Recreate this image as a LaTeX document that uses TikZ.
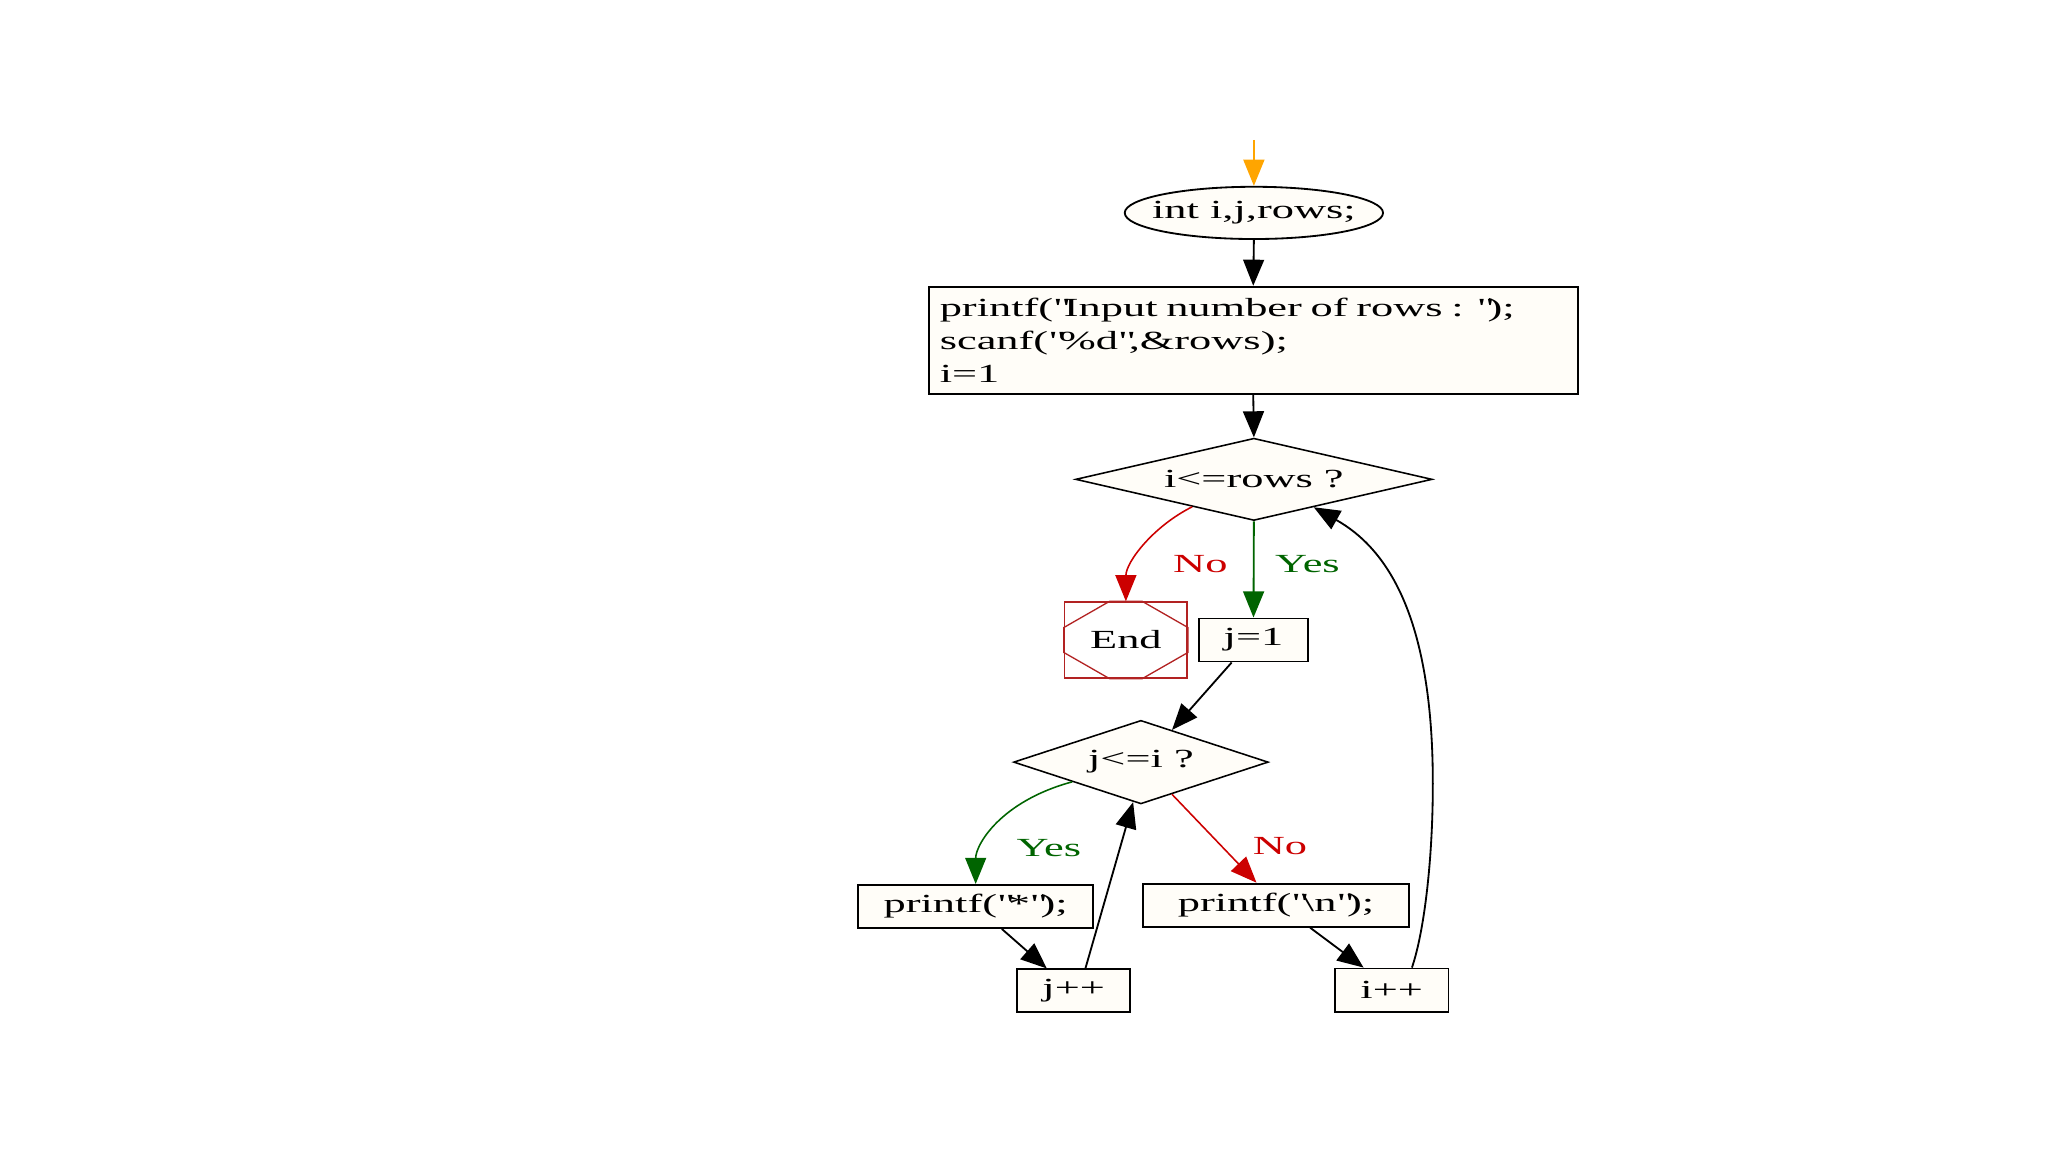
\documentclass[tikz,border=0pt]{standalone}
\usepackage{fontspec}
\setmainfont{Liberation Serif}[FakeStretch=1.7]
\usetikzlibrary{shapes.geometric,arrows.meta}
\definecolor{nodefill}{RGB}{255,253,248}
\definecolor{noRed}{RGB}{204,0,0}
\definecolor{yesGreen}{RGB}{0,100,0}
\definecolor{endRed}{RGB}{178,34,34}
\definecolor{startOrange}{RGB}{255,165,0}
\newcommand{\dq}{\textquotedbl}
\begin{document}
\begin{tikzpicture}[x=0.5pt,y=0.5pt,yscale=-1,xscale=1,
  every node/.style={font=\fontsize{10pt}{12.5pt}\selectfont},
  proc/.style={draw,fill=nodefill,line width=0.7pt,inner sep=0pt,minimum height=16.5pt},
  cond/.style={draw,fill=nodefill,shape=diamond,line width=0.6pt,inner sep=0pt},
  flow/.style={line width=0.7pt,-{Triangle[length=10pt,width=8pt]}},
  lbl/.style={inner sep=0pt}]
\useasboundingbox (0,0) rectangle (1568,882);

%Shape: Ellipse
\coordinate (start) at (960,107);
\node (decl) at (960,163) [draw,fill=nodefill,shape=ellipse,line width=0.7pt,inner xsep=-4pt,inner ysep=0pt,minimum width=98pt,minimum height=20pt] {int i,j,rows;};
%Shape: Rectangle
\node (input) at (959.5,260.5) [proc,minimum width=248.5pt,minimum height=41pt,align=left,text width=240pt] {printf(\dq Input number of rows : \dq);\\scanf(\dq\%d\dq,\&rows);\\i=1};
%Shape: Diamond
\node (cond1) at (960,367) [cond,aspect=4.3,minimum width=136.5pt,minimum height=31.5pt] {i<=rows ?};
%Shape: Rectangle
\node (endn) at (862,490) [draw=endRed,fill=white,line width=0.6pt,inner sep=0pt,minimum width=47pt,minimum height=29pt] {End};
\draw [endRed,line width=0.5pt] ([xshift=-6.25pt]endn.north) -- ([xshift=6.25pt]endn.north) -- ([yshift=-4.75pt]endn.east) -- ([yshift=4.75pt]endn.east) -- ([xshift=6.25pt]endn.south) -- ([xshift=-6.25pt]endn.south) -- ([yshift=4.75pt]endn.west) -- ([yshift=-4.75pt]endn.west) -- cycle ;
\node (jinit) at (959.7,490) [proc,minimum width=41.75pt] {j=1};
%Shape: Diamond
\node (cond2) at (873.5,583.5) [cond,aspect=3,minimum width=97.5pt,minimum height=32pt] {j<=i ?};
%Shape: Rectangle
\node (star) at (747,694) [proc,minimum width=90pt] {printf(\dq*\dq);};
\node (newl) at (977,693) [proc,minimum width=101.75pt] {printf(\dq\textbackslash n\dq);};
\node (jinc) at (822,758.4) [proc,minimum width=43.4pt,minimum height=16.2pt] {j++};
\node (iinc) at (1065.5,758) [proc,minimum width=43.5pt] {i++};
\coordinate (iloop) at (1097,600);

% Text Node
\node (no1) at (919,432) [lbl,text=noRed] {No};
\node (yes1) at (1001,432) [lbl,text=yesGreen] {Yes};
\node (yes2) at (803,649) [lbl,text=yesGreen] {Yes};
\node (no2) at (980,648) [lbl,text=noRed] {No};

%Straight Lines
\draw [flow,startOrange] (start) -- (decl.north) ;
\draw [flow] (decl.south) -- (input.north) ;
\draw [flow] (input.south) -- (cond1.north) ;
\draw [flow,yesGreen] (cond1.south) -- (jinit.north) ;
\draw [flow] ([xshift=-8.35pt]jinit.south) -- (cond2.46) ;
\draw [flow,noRed,line width=0.6pt] (cond2.-46) -- ([xshift=-7.5pt]newl.north) ;
\draw [flow] ([xshift=10pt]star.south) -- ([xshift=-10.25pt]jinc.north) ;
\draw [flow] ([xshift=4.5pt]jinc.north) -- (cond2.259) ;
\draw [flow] ([xshift=13pt]newl.south) -- ([xshift=-10.75pt]iinc.north) ;
%Curve Lines
\draw [flow,noRed,line width=0.6pt] (cond1.204) .. controls +(-30,15) and +(0,-30) .. (endn.north) ;
\draw [flow,yesGreen,line width=0.6pt] (cond2.196) .. controls +(-55,15) and +(0,-30) .. (star.north) ;
\draw [flow] ([xshift=7.75pt]iinc.north) .. controls +(9,-26) and +(0,60) .. (iloop) .. controls +(0,-130) and +(55,31) .. (cond1.-25) ;

\end{tikzpicture}
\end{document}
